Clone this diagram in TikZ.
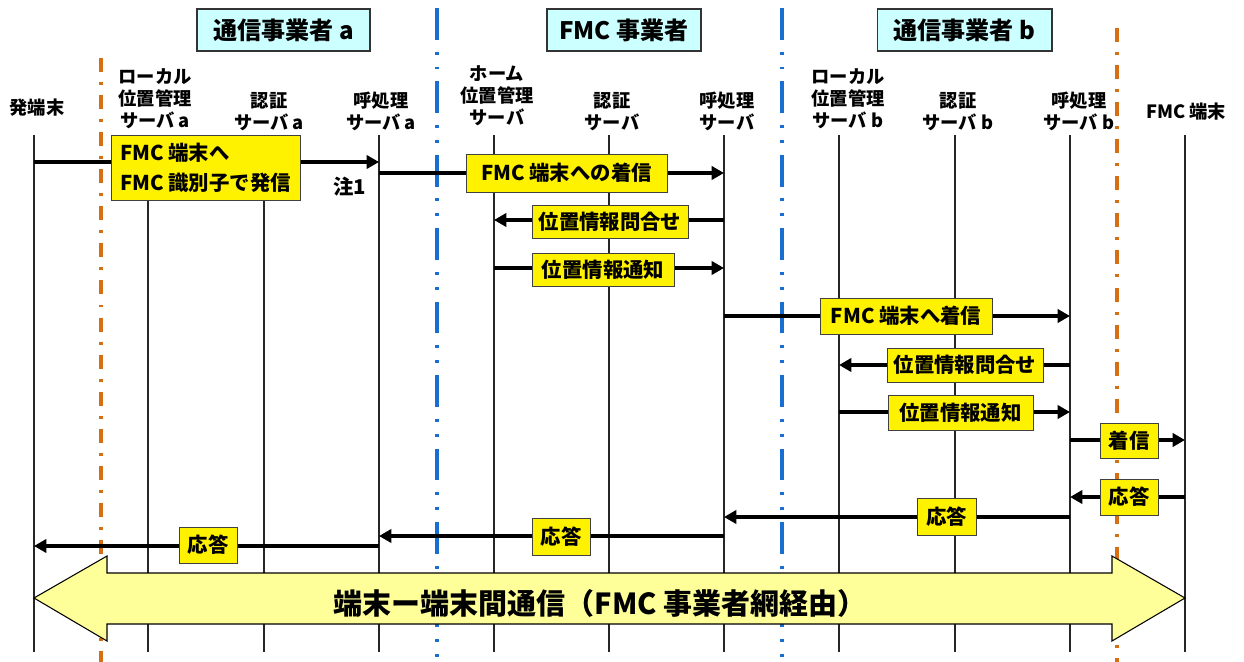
\documentclass[tikz,border=0pt]{standalone}
\usepackage{fontspec}
\setmainfont{Noto Sans CJK JP}
\usetikzlibrary{arrows.meta,positioning}
\definecolor{hdrcyan}{RGB}{204,255,255}
\definecolor{bigyel}{RGB}{255,255,153}
\definecolor{orgdiv}{RGB}{214,110,20}
\definecolor{bludiv}{RGB}{25,110,210}

\begin{document}
\begin{tikzpicture}[x=0.02cm,y=-0.02cm,
    life/.style={draw=black!85, line width=0.8pt},
    who/.style={align=center, inner sep=0pt, font=\bfseries\fontsize{10.4}{12.5}\selectfont},
    hdr/.style={draw=black!80, line width=0.6pt, fill=hdrcyan, minimum height=0.84cm, font=\bfseries\fontsize{13.7}{16}\selectfont},
    msg/.style={line width=2.4pt, -{Triangle[length=7pt,width=7.5pt]}},
    lbl/.style={draw=black!75, line width=0.5pt, fill=yellow, inner sep=2.5pt, font=\bfseries\fontsize{11.6}{17}\selectfont},
    orgline/.style={draw=orgdiv, line width=2.2pt, dash pattern=on 8pt off 5.7pt on 1.7pt off 5.7pt},
    bluline/.style={draw=bludiv, line width=2.2pt, dash pattern=on 18pt off 6.8pt on 1.7pt off 6.8pt on 1.7pt off 6.8pt}]
\useasboundingbox (0,0) rectangle (1244,662);

% operators
\node[hdr, minimum width=3.46cm] (opa) at (283.5,30) {通信事業者 a};
\node[hdr, minimum width=3.08cm] (fmcop) at (624,30) {FMC 事業者};
\node[hdr, minimum width=3.5cm] (opb) at (964.5,30) {通信事業者 b};

% lifelines
\foreach \n/\x in {hatsu/34,lca/148,aua/264,cpa/379,home/494,auf/609,cpf/724,lcb/839,aub/955,cpb/1070,fmc/1185}{
  \coordinate (\n) at (\x,135);
  \draw[life] (\n) -- ++(0,517);
}

\node[who] (hatsuL) at (37,108) {発端末};
\node[who, anchor=south] (lcaL) at (155,129) {ローカル\\位置管理\\サーバ a};
\node[who, anchor=south] (auaL) at (269,131) {認証\\サーバ a};
\node[who, anchor=south] (cpaL) at (381,131) {呼処理\\サーバ a};
\node[who, anchor=south] (homeL) at (497,126) {ホーム\\位置管理\\サーバ};
\node[who, anchor=south] (aufL) at (612,131) {認証\\サーバ};
\node[who, anchor=south] (cpfL) at (727,131) {呼処理\\サーバ};
\node[who, anchor=south] (lcbL) at (848,129) {ローカル\\位置管理\\サーバ b};
\node[who, anchor=south] (aubL) at (958,131) {認証\\サーバ b};
\node[who, anchor=south] (cpbL) at (1079,131) {呼処理\\サーバ b};
\node[who] (fmcL) at (1186,112) {FMC 端末};

% boundaries
\draw[orgline] (101,58) -- (101,662);
\draw[bluline] (437,8) -- (437,662);
\draw[bluline] (782,8) -- (782,662);
\draw[orgline] (1117,28) -- (1117,662);

% messages
\draw[msg] (hatsu |- 0,162) -- (cpa |- 0,162);
\draw[msg] (cpa |- 0,173) -- (cpf |- 0,173);
\draw[msg] (cpf |- 0,220) -- (home |- 0,220);
\draw[msg] (home |- 0,268) -- (cpf |- 0,268);
\draw[msg] (cpf |- 0,316) -- (cpb |- 0,316);
\draw[msg] (cpb |- 0,365) -- (lcb |- 0,365);
\draw[msg] (lcb |- 0,412) -- (cpb |- 0,412);
\draw[msg] (cpb |- 0,440) -- (fmc |- 0,440);
\draw[msg] (fmc |- 0,497) -- (cpb |- 0,497);
\draw[msg] (cpb |- 0,517) -- (cpf |- 0,517);
\draw[msg] (cpf |- 0,536) -- (cpa |- 0,536);
\draw[msg] (cpa |- 0,546) -- (hatsu |- 0,546);

\node[lbl, align=left, minimum width=3.78cm, minimum height=1.3cm] (orig) at (205.5,167.5) {FMC 端末へ\\FMC 識別子で発信};
\node[font=\bfseries\fontsize{11.6}{13}\selectfont] (note1) at (350,187) {注1};
\node[lbl, minimum width=4.02cm, minimum height=0.76cm] (term) at (566.5,173) {FMC 端末への着信};
\node[lbl, minimum width=3.12cm, minimum height=0.66cm] (qry1) at (610,221.5) {位置情報問合せ};
\node[lbl, minimum width=2.84cm, minimum height=0.66cm] (ntf1) at (603,269.5) {位置情報通知};
\node[lbl, minimum width=3.44cm, minimum height=0.72cm] (term2) at (906,316) {FMC 端末へ着信};
\node[lbl, minimum width=3.12cm, minimum height=0.68cm] (qry2) at (965,365) {位置情報問合せ};
\node[lbl, minimum width=2.9cm, minimum height=0.7cm] (ntf2) at (960.5,412.5) {位置情報通知};
\node[lbl, minimum width=1.16cm, minimum height=0.7cm] (ring) at (1129,440.5) {着信};
\node[lbl, minimum width=1.16cm, minimum height=0.72cm] (ans1) at (1129,497) {応答};
\node[lbl, minimum width=1.18cm, minimum height=0.74cm] (ans2) at (946.5,516.5) {応答};
\node[lbl, minimum width=1.16cm, minimum height=0.74cm] (ans3) at (561,536.5) {応答};
\node[lbl, minimum width=1.16cm, minimum height=0.72cm] (ans4) at (208,545) {応答};

% end-to-end
\draw[draw=black, line width=0.6pt, fill=bigyel]
  (hatsu |- 0,598) -- (107,556) -- (107,573) -- (1112,573) -- (1112,556)
  -- (fmc |- 0,598) -- (1112,641) -- (1112,624) -- (107,624) -- (107,641) -- cycle;
\node[font=\bfseries\fontsize{16.5}{20}\selectfont] (e2e) at (600,603) {端末ー端末間通信（FMC 事業者網経由）};
\end{tikzpicture}
\end{document}
